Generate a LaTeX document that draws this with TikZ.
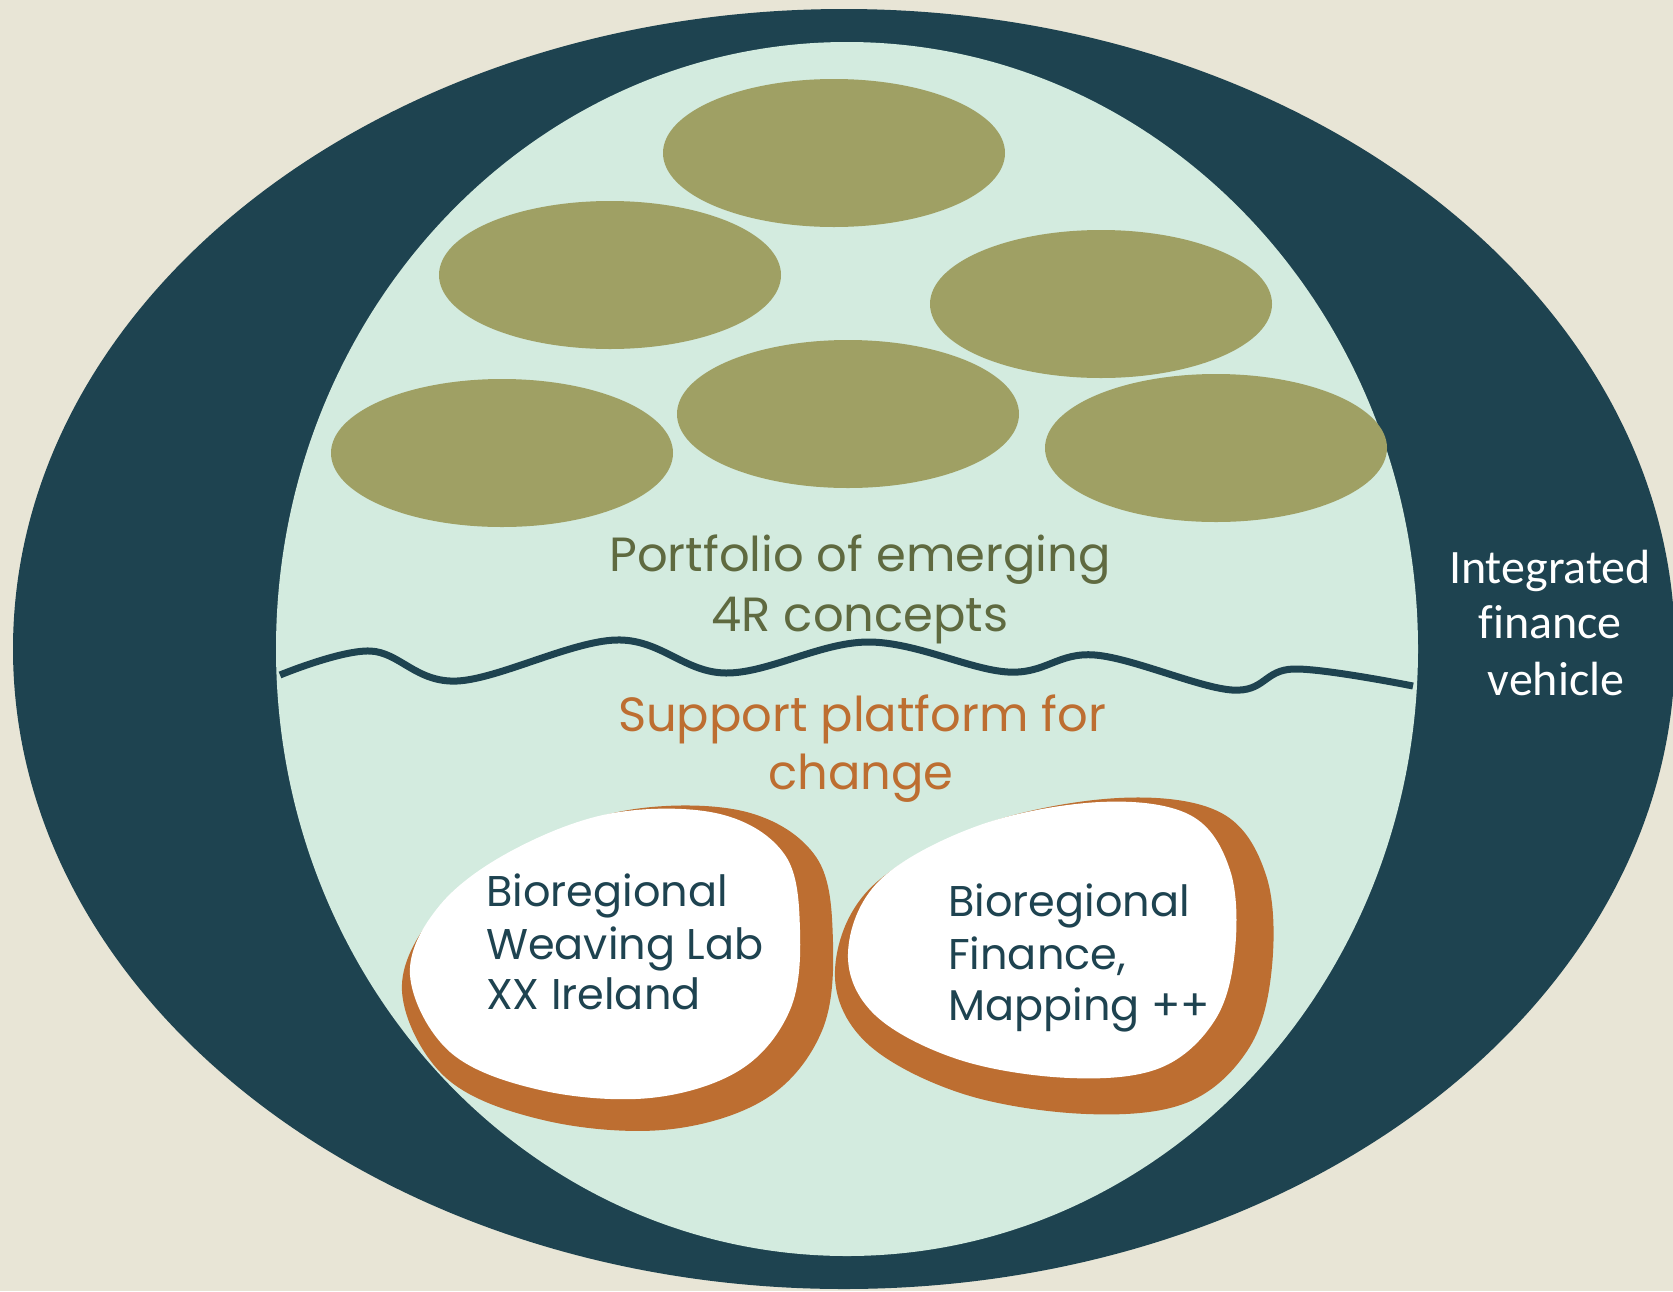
\documentclass[tikz,border=0pt]{standalone}
\usepackage{fontspec}
\setmainfont{Poppins}
\newfontfamily\carlito[Ligatures=NoCommon]{Carlito}
\definecolor{bgbeige}{HTML}{E8E5D6}
\definecolor{darkteal}{HTML}{1E4350}
\definecolor{mint}{HTML}{D3EBDF}
\definecolor{olivefill}{HTML}{9FA064}
\definecolor{olivetext}{HTML}{5F6A40}
\definecolor{rust}{HTML}{BD6E31}
\begin{document}
\begin{tikzpicture}[x=1pt,y=-1pt,
  concept/.style={fill=olivefill},
  blobback/.style={fill=rust},
  blobfront/.style={fill=white},
  bigtxt/.style={inner sep=0pt,anchor=base,font=\fontsize{48}{56}\selectfont},
  blobtxt/.style={inner sep=0pt,anchor=base west,text=darkteal,font=\fontsize{43}{52}\selectfont},
  sidetxt/.style={inner sep=0pt,anchor=base,text=white,font=\carlito\fontsize{48}{56}\selectfont},
  wave/.style={draw=darkteal,line width=7pt}]
\useasboundingbox (0,0) rectangle (1673,1291);
\clip (0,0) rectangle (1673,1291);
\fill[bgbeige] (0,0) rectangle (1673,1291);
% outer and inner ellipses
\fill[darkteal] (844,649) ellipse [x radius=831, y radius=640];
\fill[mint] (847,649) ellipse [x radius=571, y radius=607];
% concept ellipses
\fill[concept] (834,153) ellipse [x radius=171, y radius=74];
\fill[concept] (610,275) ellipse [x radius=171, y radius=74];
\fill[concept] (1101,304) ellipse [x radius=171, y radius=74];
\fill[concept] (502,453) ellipse [x radius=171, y radius=74];
\fill[concept] (848,414) ellipse [x radius=171, y radius=74];
\fill[concept] (1216,448) ellipse [x radius=171, y radius=74];
% wavy divider
\draw[wave] plot[smooth, tension=0.6] coordinates {(280,675) (370,651) (457,681) (616,640) (726,673) (868,642) (1008,672) (1095,655) (1232,690) (1294,669) (1413,686)};
% blob 1
\def\blobone{plot[smooth cycle, tension=0.6] coordinates {(410,975) (440,905) (513,850) (613,813) (720,814) (785,855) (800,930) (790,1010) (740,1070) (650,1098) (540,1090) (450,1052)}}
\begin{scope}[shift={(486,835)},xscale=1.105,yscale=1.12,shift={(-486,-835)}]
\fill[blobback] \blobone;
\end{scope}
\fill[blobfront] \blobone;
% blob 2
\def\blobtwo{plot[smooth cycle, tension=0.6] coordinates {(848,953) (880,880) (980,825) (1100,802) (1190,815) (1230,870) (1235,950) (1215,1020) (1160,1068) (1070,1078) (960,1060) (875,1015)}}
\begin{scope}[shift={(949,830)},xscale=1.129,yscale=1.145,shift={(-949,-830)}]
\fill[blobback] \blobtwo;
\end{scope}
\fill[blobfront] \blobtwo;
% texts
\node[bigtxt,text=olivetext] (port1) at (860,571) {Portfolio of emerging};
\node[bigtxt,text=olivetext] (port2) at (860,631) {4R concepts};
\node[bigtxt,text=rust] (supp1) at (862,731) {Support platform for};
\node[bigtxt,text=rust] (supp2) at (861,789) {change};
\node[blobtxt] (lab1) at (486,906) {Bioregional};
\node[blobtxt] (lab2) at (486,959) {Weaving Lab};
\node[blobtxt] (lab3) at (486,1009) {XX Ireland};
\node[blobtxt] (fin1) at (948,916) {Bioregional};
\node[blobtxt] (fin2) at (948,969) {Finance,};
\node[blobtxt] (fin3) at (948,1020) {Mapping ++};
\node[sidetxt] (ifv1) at (1550,583) {Integrated};
\node[sidetxt] (ifv2) at (1550,638) {finance};
\node[sidetxt] (ifv3) at (1556,695) {vehicle};
\end{tikzpicture}
\end{document}
